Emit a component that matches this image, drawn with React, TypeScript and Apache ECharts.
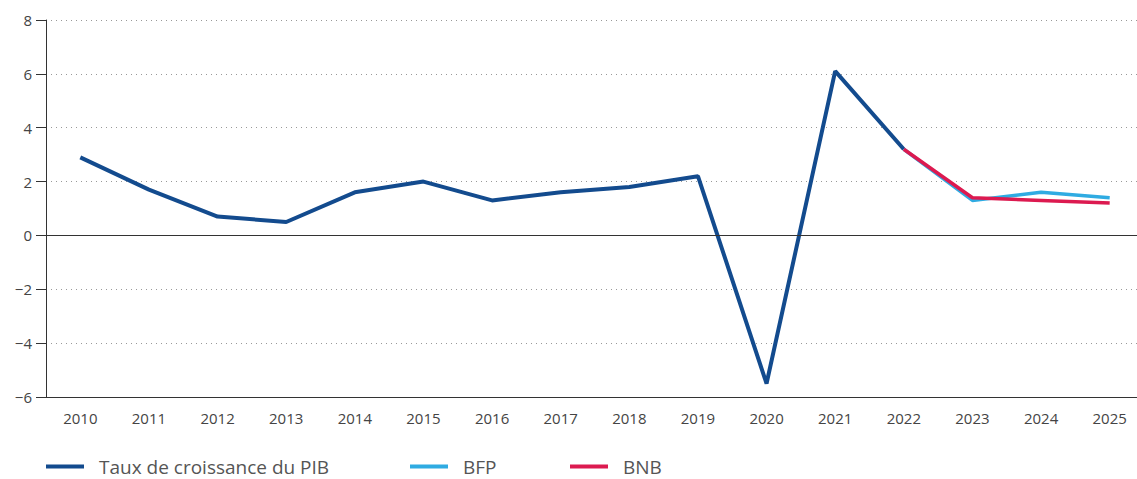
import React, { useEffect, useRef } from "react";
import * as echarts from "echarts";

const years = ["2010","2011","2012","2013","2014","2015","2016","2017","2018","2019","2020","2021","2022","2023","2024","2025"];
const pib = [2.9, 1.7, 0.7, 0.5, 1.6, 2.0, 1.3, 1.6, 1.8, 2.2, -5.5, 6.1, 3.2, null, null, null];
const bfp = [null, null, null, null, null, null, null, null, null, null, null, null, 3.2, 1.3, 1.6, 1.4];
const bnb = [null, null, null, null, null, null, null, null, null, null, null, null, 3.2, 1.4, 1.3, 1.2];
const names = ["Taux de croissance du PIB", "BFP", "BNB"];
const colors = ["#134b8e", "#2fabe2", "#dc1a50"];
const legendLeft = [41, 405, 565];

const FONT = "'Open Sans', 'Noto Sans', sans-serif";

export default function App() {
  const ref = useRef<HTMLDivElement>(null);
  useEffect(() => {
    const chart = echarts.init(ref.current!, null, { renderer: "svg" });
    const mkLegend = (i: number) => ({
      data: [names[i]],
      left: legendLeft[i],
      top: 452,
      icon: "rect",
      itemWidth: 38,
      itemHeight: 4,
      textStyle: { fontFamily: FONT, fontSize: 19, color: "#555", padding: [0, 0, 0, 10] },
      selectedMode: false,
    });
    chart.setOption({
      animation: false,
      color: colors,
      textStyle: { fontFamily: FONT },
      grid: { left: 46, right: 6, top: 20, bottom: 82 },
      legend: [mkLegend(0), mkLegend(1), mkLegend(2)],
      xAxis: {
        type: "category",
        data: years,
        boundaryGap: true,
        position: "bottom",
        axisLine: { onZero: false, lineStyle: { color: "#333", width: 1 } },
        axisTick: { inside: true, length: 10, alignWithLabel: false, lineStyle: { color: "#333" } },
        axisLabel: { fontFamily: FONT, fontSize: 15, color: "#444", margin: 13 },
        splitLine: { show: false },
      },
      yAxis: {
        type: "value",
        min: -6,
        max: 8,
        interval: 2,
        axisLine: { show: true, lineStyle: { color: "#333", width: 1 } },
        axisTick: { show: true, inside: false, length: 10, lineStyle: { color: "#333" } },
        axisLabel: {
          fontFamily: FONT,
          fontSize: 15,
          color: "#444",
          margin: 14,
          formatter: (v: number) => (v < 0 ? "\u2212" + Math.abs(v) : String(v)),
        },
        splitLine: { show: true, lineStyle: { color: "#999", type: [1, 4], width: 1 } },
      },
      series: [
        {
          name: names[0],
          type: "line",
          data: pib,
          symbol: "none",
          lineStyle: { width: 4, color: colors[0] },
          itemStyle: { color: colors[0] },
          markLine: {
            silent: true,
            symbol: "none",
            label: { show: false },
            lineStyle: { color: "#333", width: 1, type: "solid" },
            data: [{ yAxis: 0 }],
          },
          z: 2,
        },
        {
          name: names[1],
          type: "line",
          data: bfp,
          symbol: "none",
          lineStyle: { width: 3.5, color: colors[1] },
          itemStyle: { color: colors[1] },
          z: 3,
        },
        {
          name: names[2],
          type: "line",
          data: bnb,
          symbol: "none",
          lineStyle: { width: 3.5, color: colors[2] },
          itemStyle: { color: colors[2] },
          z: 4,
        },
      ],
    });
    return () => chart.dispose();
  }, []);
  return (
    <div
      ref={ref}
      style={{ position: "fixed", left: 0, top: 0, width: 1150, height: 479, background: "#fff" }}
    />
  );
}
